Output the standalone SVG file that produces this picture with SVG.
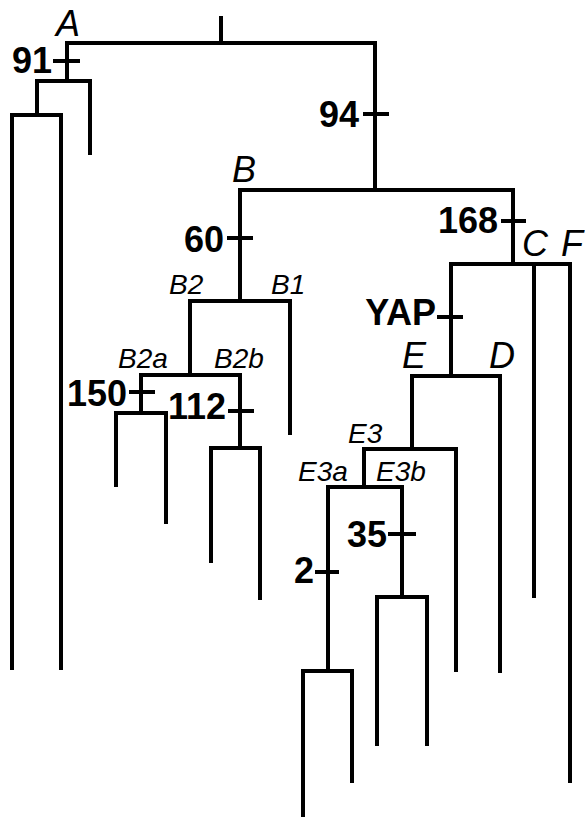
<svg xmlns="http://www.w3.org/2000/svg" width="585" height="817" viewBox="0 0 585 817">
  <style>
    .br { fill: none; stroke: #000; stroke-width: 4; stroke-linejoin: miter; stroke-linecap: butt; }
    .tick { fill: none; stroke: #000; stroke-width: 4; }
    .num { font-family: "Liberation Sans", Arial, sans-serif; font-weight: bold; font-size: 36px; text-anchor: end; fill: #000; }
    .clade { font-family: "Liberation Sans", Arial, sans-serif; font-style: italic; font-size: 36px; fill: #000; }
    .sub { font-family: "Liberation Sans", Arial, sans-serif; font-style: italic; font-size: 28px; fill: #000; }
  </style>

  <rect width="585" height="817" fill="#fff"/>

  <!-- tree branches -->
  <g id="connectors" class="br">
    <path d="M221 16 V43"/>
    <path d="M67 81 V43 H375 V190"/>
    <path d="M37 115 V81 H90 V155"/>
    <path d="M12 670 V115 H61 V670"/>
    <path d="M240 301 V190 H513 V264"/>
    <path d="M190 375 V301 H290 V435"/>
    <path d="M141 413 V375 H240 V448"/>
    <path d="M116 487 V413 H166 V524"/>
    <path d="M211 563 V448 H260 V600"/>
    <path d="M451 376 V264 H570 V783"/>
    <path d="M534 264 V598"/>
    <path d="M412 449 V376 H500 V673"/>
    <path d="M364 487 V449 H456 V672"/>
    <path d="M328 671 V487 H402 V597"/>
    <path d="M303 817 V671 H352 V783"/>
    <path d="M377 746 V597 H427 V746"/>
  </g>

  <!-- labelled nodes with their branch marks -->
  <g id="node-A">
    <text class="clade" x="56" y="36">A</text>
    <path class="tick" d="M53 61 H80"/>
    <text class="num" x="52" y="73">91</text>
  </g>
  <g id="node-94">
    <path class="tick" d="M363 114 H389"/>
    <text class="num" x="359" y="127">94</text>
  </g>
  <g id="node-B">
    <text class="clade" x="232" y="182">B</text>
    <path class="tick" d="M227 238 H253"/>
    <text class="num" x="224" y="252">60</text>
  </g>
  <g id="node-B2">
    <text class="sub" x="169" y="294">B2</text>
  </g>
  <g id="node-B1">
    <text class="sub" x="271" y="294">B1</text>
  </g>
  <g id="node-B2a">
    <text class="sub" x="118" y="368">B2a</text>
    <path class="tick" d="M129 392 H155"/>
    <text class="num" x="127" y="406">150</text>
  </g>
  <g id="node-B2b">
    <text class="sub" x="214" y="368">B2b</text>
    <path class="tick" d="M228 411 H254"/>
    <text class="num" x="226" y="419">112</text>
  </g>
  <g id="node-168">
    <path class="tick" d="M501 221 H526"/>
    <text class="num" x="498" y="233">168</text>
  </g>
  <g id="node-C">
    <text class="clade" x="522" y="256">C</text>
  </g>
  <g id="node-F">
    <text class="clade" x="561" y="256">F</text>
  </g>
  <g id="node-YAP">
    <path class="tick" d="M437 317 H463"/>
    <text class="num" x="436" y="325">YAP</text>
  </g>
  <g id="node-E">
    <text class="clade" x="402" y="368">E</text>
  </g>
  <g id="node-D">
    <text class="clade" x="489" y="368">D</text>
  </g>
  <g id="node-E3">
    <text class="sub" x="348" y="443">E3</text>
  </g>
  <g id="node-E3a">
    <text class="sub" x="298" y="481">E3a</text>
    <path class="tick" d="M315 572 H339"/>
    <text class="num" x="314" y="583">2</text>
  </g>
  <g id="node-E3b">
    <text class="sub" x="376" y="481">E3b</text>
    <path class="tick" d="M388 534 H416"/>
    <text class="num" x="387" y="547">35</text>
  </g>
</svg>
